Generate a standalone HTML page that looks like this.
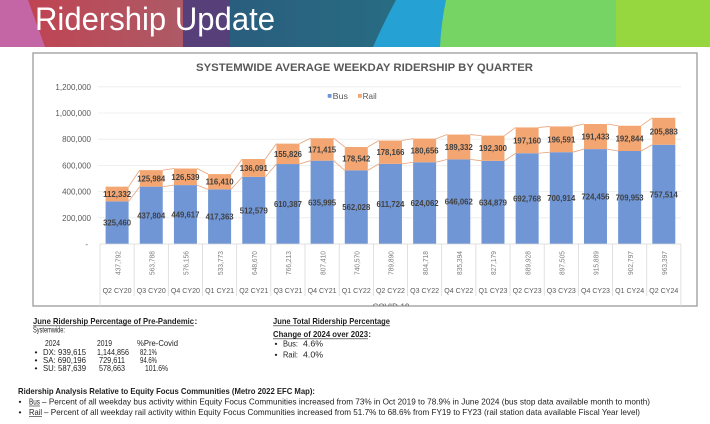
<!DOCTYPE html>
<html><head><meta charset="utf-8"><style>
html,body{margin:0;padding:0;background:#fff;}
svg{display:block;}
text{font-family:"Liberation Sans",sans-serif;}
</style></head><body>
<svg width="710" height="424" viewBox="0 0 710 424" xmlns="http://www.w3.org/2000/svg">
<defs>
<linearGradient id="gRed" x1="0" x2="1" y1="0" y2="0"><stop offset="0" stop-color="#c3404f"/><stop offset="1" stop-color="#ad5a66"/></linearGradient>
<linearGradient id="gTeal" x1="0" x2="1" y1="0" y2="0"><stop offset="0" stop-color="#2c4a78"/><stop offset="1" stop-color="#286c82"/></linearGradient>
<clipPath id="box"><rect x="33" y="53" width="664" height="253"/></clipPath>
</defs>
<!-- banner -->
<rect x="0" y="0" width="710" height="47" fill="#96d73f"/>
<rect x="0" y="0" width="616" height="47" fill="#76d465"/>
<path d="M0,0 L446,0 Q441,24 440,47 L0,47 Z" fill="#25a2d3"/>
<path d="M0,0 L396,0 Q384,22 373,47 L0,47 Z" fill="url(#gTeal)"/>
<rect x="0" y="0" width="230" height="47" fill="#573f7a"/>
<path d="M0,0 L183,0 L183,47 L0,47 Z" fill="url(#gRed)"/>
<path d="M0,0 L28,0 L45,47 L0,47 Z" fill="#c466a6"/>
<text x="35" y="30" font-size="32" fill="#ffffff" textLength="240" lengthAdjust="spacingAndGlyphs">Ridership Update</text>

<!-- chart box -->
<rect x="33" y="53" width="664" height="253" fill="#ffffff" stroke="#a3a3a3" stroke-width="1.4"/>
<text x="364.5" y="71" font-size="11" font-weight="bold" fill="#595959" text-anchor="middle" textLength="337" lengthAdjust="spacingAndGlyphs">SYSTEMWIDE AVERAGE WEEKDAY RIDERSHIP BY QUARTER</text>

<!-- gridlines -->
<g stroke="#ebebeb" stroke-width="0.8">
<line x1="98" y1="86.8" x2="681" y2="86.8"/>
<line x1="98" y1="113" x2="681" y2="113"/>
<line x1="98" y1="139.2" x2="681" y2="139.2"/>
<line x1="98" y1="165.4" x2="681" y2="165.4"/>
<line x1="98" y1="191.6" x2="681" y2="191.6"/>
<line x1="98" y1="217.8" x2="681" y2="217.8"/>
</g>
<g font-size="8" fill="#595959" text-anchor="end">
<text x="91" y="89.8">1,200,000</text>
<text x="91" y="116">1,000,000</text>
<text x="91" y="142.2">800,000</text>
<text x="91" y="168.4">600,000</text>
<text x="91" y="194.6">400,000</text>
<text x="91" y="220.8">200,000</text>
<text x="88" y="247">-</text>
</g>

<!-- legend -->
<rect x="327.7" y="94" width="3.8" height="3.8" fill="#7096d6"/>
<text x="332.7" y="99" font-size="8" fill="#595959" textLength="15.3" lengthAdjust="spacingAndGlyphs">Bus</text>
<rect x="358" y="94" width="3.8" height="3.8" fill="#f3a672"/>
<text x="362.7" y="99" font-size="8" fill="#595959" textLength="14" lengthAdjust="spacingAndGlyphs">Rail</text>

<!-- bars -->
<g fill="#7096d6">
<rect x="105.59" y="201.36" width="23" height="42.64"/>
<rect x="139.76" y="186.65" width="23" height="57.35"/>
<rect x="173.93" y="185.10" width="23" height="58.90"/>
<rect x="208.10" y="189.33" width="23" height="54.67"/>
<rect x="242.27" y="176.85" width="23" height="67.15"/>
<rect x="276.44" y="164.04" width="23" height="79.96"/>
<rect x="310.61" y="160.68" width="23" height="83.32"/>
<rect x="344.78" y="170.37" width="23" height="73.63"/>
<rect x="378.95" y="163.86" width="23" height="80.14"/>
<rect x="413.12" y="162.25" width="23" height="81.75"/>
<rect x="447.29" y="159.37" width="23" height="84.63"/>
<rect x="481.46" y="160.83" width="23" height="83.17"/>
<rect x="515.63" y="153.25" width="23" height="90.75"/>
<rect x="549.80" y="152.18" width="23" height="91.82"/>
<rect x="583.97" y="149.10" width="23" height="94.90"/>
<rect x="618.14" y="151.00" width="23" height="93.00"/>
<rect x="652.31" y="144.77" width="23" height="99.23"/>
</g>
<g fill="#f3a672">
<rect x="105.59" y="186.65" width="23" height="14.71"/>
<rect x="139.76" y="170.14" width="23" height="16.51"/>
<rect x="173.93" y="168.52" width="23" height="16.58"/>
<rect x="208.10" y="174.08" width="23" height="15.25"/>
<rect x="242.27" y="159.02" width="23" height="17.83"/>
<rect x="276.44" y="143.63" width="23" height="20.41"/>
<rect x="310.61" y="138.23" width="23" height="22.45"/>
<rect x="344.78" y="146.99" width="23" height="23.38"/>
<rect x="378.95" y="140.52" width="23" height="23.34"/>
<rect x="413.12" y="138.58" width="23" height="23.67"/>
<rect x="447.29" y="134.56" width="23" height="24.81"/>
<rect x="481.46" y="135.64" width="23" height="25.19"/>
<rect x="515.63" y="127.42" width="23" height="25.83"/>
<rect x="549.80" y="126.43" width="23" height="25.75"/>
<rect x="583.97" y="124.02" width="23" height="25.08"/>
<rect x="618.14" y="125.73" width="23" height="25.27"/>
<rect x="652.31" y="117.80" width="23" height="26.97"/>
</g>
<!-- series lines -->
<path fill="none" stroke="#e8a27a" stroke-width="0.8" d="
M128.59,201.36 L139.76,186.65 M128.59,186.65 L139.76,170.14
M162.76,186.65 L173.93,185.10 M162.76,170.14 L173.93,168.52
M196.93,185.10 L208.10,189.33 M196.93,168.52 L208.10,174.08
M231.10,189.33 L242.27,176.85 M231.10,174.08 L242.27,159.02
M265.27,176.85 L276.44,164.04 M265.27,159.02 L276.44,143.63
M299.44,164.04 L310.61,160.68 M299.44,143.63 L310.61,138.23
M333.61,160.68 L344.78,170.37 M333.61,138.23 L344.78,146.99
M367.78,170.37 L378.95,163.86 M367.78,146.99 L378.95,140.52
M401.95,163.86 L413.12,162.25 M401.95,140.52 L413.12,138.58
M436.12,162.25 L447.29,159.37 M436.12,138.58 L447.29,134.56
M470.29,159.37 L481.46,160.83 M470.29,134.56 L481.46,135.64
M504.46,160.83 L515.63,153.25 M504.46,135.64 L515.63,127.42
M538.63,153.25 L549.80,152.18 M538.63,127.42 L549.80,126.43
M572.80,152.18 L583.97,149.10 M572.80,126.43 L583.97,124.02
M606.97,149.10 L618.14,151.00 M606.97,124.02 L618.14,125.73
M641.14,151.00 L652.31,144.77 M641.14,125.73 L652.31,117.80"/>

<!-- data labels -->
<g font-size="8.5" font-weight="bold" fill="#404040" text-anchor="middle">
<text x="117.09" y="225.7" textLength="28" lengthAdjust="spacingAndGlyphs">325,460</text>
<text x="151.26" y="218.3" textLength="28" lengthAdjust="spacingAndGlyphs">437,804</text>
<text x="185.43" y="217.6" textLength="28" lengthAdjust="spacingAndGlyphs">449,617</text>
<text x="219.60" y="219.7" textLength="28" lengthAdjust="spacingAndGlyphs">417,363</text>
<text x="253.77" y="213.4" textLength="28" lengthAdjust="spacingAndGlyphs">512,579</text>
<text x="287.94" y="207.0" textLength="28" lengthAdjust="spacingAndGlyphs">610,387</text>
<text x="322.11" y="205.3" textLength="28" lengthAdjust="spacingAndGlyphs">635,995</text>
<text x="356.28" y="210.2" textLength="28" lengthAdjust="spacingAndGlyphs">562,028</text>
<text x="390.45" y="206.9" textLength="28" lengthAdjust="spacingAndGlyphs">611,724</text>
<text x="424.62" y="206.1" textLength="28" lengthAdjust="spacingAndGlyphs">624,062</text>
<text x="458.79" y="204.7" textLength="28" lengthAdjust="spacingAndGlyphs">646,062</text>
<text x="492.96" y="205.4" textLength="28" lengthAdjust="spacingAndGlyphs">634,879</text>
<text x="527.13" y="201.6" textLength="28" lengthAdjust="spacingAndGlyphs">692,768</text>
<text x="561.30" y="201.1" textLength="28" lengthAdjust="spacingAndGlyphs">700,914</text>
<text x="595.47" y="199.6" textLength="28" lengthAdjust="spacingAndGlyphs">724,456</text>
<text x="629.64" y="200.5" textLength="28" lengthAdjust="spacingAndGlyphs">709,953</text>
<text x="663.81" y="197.4" textLength="28" lengthAdjust="spacingAndGlyphs">757,514</text>

<text x="117.09" y="197.0" textLength="28" lengthAdjust="spacingAndGlyphs">112,332</text>
<text x="151.26" y="181.4" textLength="28" lengthAdjust="spacingAndGlyphs">125,984</text>
<text x="185.43" y="179.8" textLength="28" lengthAdjust="spacingAndGlyphs">126,539</text>
<text x="219.60" y="184.7" textLength="28" lengthAdjust="spacingAndGlyphs">116,410</text>
<text x="253.77" y="170.9" textLength="28" lengthAdjust="spacingAndGlyphs">136,091</text>
<text x="287.94" y="156.8" textLength="28" lengthAdjust="spacingAndGlyphs">155,826</text>
<text x="322.11" y="152.5" textLength="28" lengthAdjust="spacingAndGlyphs">171,415</text>
<text x="356.28" y="161.7" textLength="28" lengthAdjust="spacingAndGlyphs">178,542</text>
<text x="390.45" y="155.2" textLength="28" lengthAdjust="spacingAndGlyphs">178,166</text>
<text x="424.62" y="153.4" textLength="28" lengthAdjust="spacingAndGlyphs">180,656</text>
<text x="458.79" y="150.0" textLength="28" lengthAdjust="spacingAndGlyphs">189,332</text>
<text x="492.96" y="151.2" textLength="28" lengthAdjust="spacingAndGlyphs">192,300</text>
<text x="527.13" y="143.3" textLength="28" lengthAdjust="spacingAndGlyphs">197,160</text>
<text x="561.30" y="142.3" textLength="28" lengthAdjust="spacingAndGlyphs">196,591</text>
<text x="595.47" y="139.6" textLength="28" lengthAdjust="spacingAndGlyphs">191,433</text>
<text x="629.64" y="141.4" textLength="28" lengthAdjust="spacingAndGlyphs">192,844</text>
<text x="663.81" y="134.3" textLength="28" lengthAdjust="spacingAndGlyphs">205,883</text>
</g>

<!-- category axis -->
<g clip-path="url(#box)">
<g stroke="#d9d9d9" stroke-width="0.8">
<line x1="100" y1="244" x2="681" y2="244"/>
<line x1="100" y1="244" x2="100" y2="310"/>
<line x1="134.17" y1="244" x2="134.17" y2="296"/>
<line x1="168.34" y1="244" x2="168.34" y2="296"/>
<line x1="202.51" y1="244" x2="202.51" y2="296"/>
<line x1="236.68" y1="244" x2="236.68" y2="296"/>
<line x1="270.85" y1="244" x2="270.85" y2="296"/>
<line x1="305.02" y1="244" x2="305.02" y2="296"/>
<line x1="339.19" y1="244" x2="339.19" y2="296"/>
<line x1="373.36" y1="244" x2="373.36" y2="296"/>
<line x1="407.53" y1="244" x2="407.53" y2="296"/>
<line x1="441.70" y1="244" x2="441.70" y2="296"/>
<line x1="475.87" y1="244" x2="475.87" y2="296"/>
<line x1="510.04" y1="244" x2="510.04" y2="296"/>
<line x1="544.21" y1="244" x2="544.21" y2="296"/>
<line x1="578.38" y1="244" x2="578.38" y2="296"/>
<line x1="612.55" y1="244" x2="612.55" y2="296"/>
<line x1="646.72" y1="244" x2="646.72" y2="296"/>
<line x1="680.89" y1="244" x2="680.89" y2="310"/>
</g>
<text x="391" y="309.5" font-size="8" fill="#595959" text-anchor="middle">COVID-19</text>
</g>
<g font-size="7.5" fill="#7f7f7f" text-anchor="middle">
<text transform="translate(117.6,263) rotate(-90)" y="2.7" textLength="24" lengthAdjust="spacingAndGlyphs">437,792</text>
<text transform="translate(151.8,263) rotate(-90)" y="2.7" textLength="24" lengthAdjust="spacingAndGlyphs">563,788</text>
<text transform="translate(185.9,263) rotate(-90)" y="2.7" textLength="24" lengthAdjust="spacingAndGlyphs">576,156</text>
<text transform="translate(220.1,263) rotate(-90)" y="2.7" textLength="24" lengthAdjust="spacingAndGlyphs">533,773</text>
<text transform="translate(254.3,263) rotate(-90)" y="2.7" textLength="24" lengthAdjust="spacingAndGlyphs">648,670</text>
<text transform="translate(288.4,263) rotate(-90)" y="2.7" textLength="24" lengthAdjust="spacingAndGlyphs">766,213</text>
<text transform="translate(322.6,263) rotate(-90)" y="2.7" textLength="24" lengthAdjust="spacingAndGlyphs">807,410</text>
<text transform="translate(356.8,263) rotate(-90)" y="2.7" textLength="24" lengthAdjust="spacingAndGlyphs">740,570</text>
<text transform="translate(390.9,263) rotate(-90)" y="2.7" textLength="24" lengthAdjust="spacingAndGlyphs">789,890</text>
<text transform="translate(425.1,263) rotate(-90)" y="2.7" textLength="24" lengthAdjust="spacingAndGlyphs">804,718</text>
<text transform="translate(459.3,263) rotate(-90)" y="2.7" textLength="24" lengthAdjust="spacingAndGlyphs">835,394</text>
<text transform="translate(493.5,263) rotate(-90)" y="2.7" textLength="24" lengthAdjust="spacingAndGlyphs">827,179</text>
<text transform="translate(527.6,263) rotate(-90)" y="2.7" textLength="24" lengthAdjust="spacingAndGlyphs">889,928</text>
<text transform="translate(561.8,263) rotate(-90)" y="2.7" textLength="24" lengthAdjust="spacingAndGlyphs">897,505</text>
<text transform="translate(596.0,263) rotate(-90)" y="2.7" textLength="24" lengthAdjust="spacingAndGlyphs">915,889</text>
<text transform="translate(630.1,263) rotate(-90)" y="2.7" textLength="24" lengthAdjust="spacingAndGlyphs">902,797</text>
<text transform="translate(664.3,263) rotate(-90)" y="2.7" textLength="24" lengthAdjust="spacingAndGlyphs">963,397</text>
</g>
<g font-size="7.5" fill="#595959" text-anchor="middle">
<text x="117.09" y="292.8" textLength="29" lengthAdjust="spacingAndGlyphs">Q2 CY20</text>
<text x="151.26" y="292.8" textLength="29" lengthAdjust="spacingAndGlyphs">Q3 CY20</text>
<text x="185.43" y="292.8" textLength="29" lengthAdjust="spacingAndGlyphs">Q4 CY20</text>
<text x="219.60" y="292.8" textLength="29" lengthAdjust="spacingAndGlyphs">Q1 CY21</text>
<text x="253.77" y="292.8" textLength="29" lengthAdjust="spacingAndGlyphs">Q2 CY21</text>
<text x="287.94" y="292.8" textLength="29" lengthAdjust="spacingAndGlyphs">Q3 CY21</text>
<text x="322.11" y="292.8" textLength="29" lengthAdjust="spacingAndGlyphs">Q4 CY21</text>
<text x="356.28" y="292.8" textLength="29" lengthAdjust="spacingAndGlyphs">Q1 CY22</text>
<text x="390.45" y="292.8" textLength="29" lengthAdjust="spacingAndGlyphs">Q2 CY22</text>
<text x="424.62" y="292.8" textLength="29" lengthAdjust="spacingAndGlyphs">Q3 CY22</text>
<text x="458.79" y="292.8" textLength="29" lengthAdjust="spacingAndGlyphs">Q4 CY22</text>
<text x="492.96" y="292.8" textLength="29" lengthAdjust="spacingAndGlyphs">Q1 CY23</text>
<text x="527.13" y="292.8" textLength="29" lengthAdjust="spacingAndGlyphs">Q2 CY23</text>
<text x="561.30" y="292.8" textLength="29" lengthAdjust="spacingAndGlyphs">Q3 CY23</text>
<text x="595.47" y="292.8" textLength="29" lengthAdjust="spacingAndGlyphs">Q4 CY23</text>
<text x="629.64" y="292.8" textLength="29" lengthAdjust="spacingAndGlyphs">Q1 CY24</text>
<text x="663.81" y="292.8" textLength="29" lengthAdjust="spacingAndGlyphs">Q2 CY24</text>
</g>

<!-- left text block -->
<g font-size="8.5" fill="#1e1e1e">
<text x="33" y="324" font-weight="bold" textLength="161" lengthAdjust="spacingAndGlyphs">June Ridership Percentage of Pre-Pandemic</text>
<text x="194.5" y="324" font-weight="bold">:</text>
<line x1="33" y1="325.8" x2="194" y2="325.8" stroke="#1e1e1e" stroke-width="0.7"/>
<text x="33" y="332.5" textLength="32" lengthAdjust="spacingAndGlyphs">Systemwide:</text>
<text x="45" y="346" textLength="15" lengthAdjust="spacingAndGlyphs">2024</text>
<text x="97" y="346" textLength="15" lengthAdjust="spacingAndGlyphs">2019</text>
<text x="137" y="346" textLength="41" lengthAdjust="spacingAndGlyphs">%Pre-Covid</text>
<text x="34.5" y="355">•</text>
<text x="43" y="355" textLength="43" lengthAdjust="spacingAndGlyphs">DX: 939,615</text>
<text x="97" y="355" textLength="32" lengthAdjust="spacingAndGlyphs">1,144,856</text>
<text x="140" y="355" textLength="17" lengthAdjust="spacingAndGlyphs">82.1%</text>
<text x="34.5" y="363">•</text>
<text x="43" y="363" textLength="43" lengthAdjust="spacingAndGlyphs">SA: 690,196</text>
<text x="99" y="363" textLength="26" lengthAdjust="spacingAndGlyphs">729,611</text>
<text x="140" y="363" textLength="17" lengthAdjust="spacingAndGlyphs">94.6%</text>
<text x="34.5" y="371">•</text>
<text x="43" y="371" textLength="43" lengthAdjust="spacingAndGlyphs">SU: 587,639</text>
<text x="99" y="371" textLength="26" lengthAdjust="spacingAndGlyphs">578,663</text>
<text x="145" y="371" textLength="23" lengthAdjust="spacingAndGlyphs">101.6%</text>

<!-- right text block -->
<text x="273" y="324" font-weight="bold" textLength="117" lengthAdjust="spacingAndGlyphs">June Total Ridership Percentage</text>
<line x1="273" y1="325.8" x2="390" y2="325.8" stroke="#1e1e1e" stroke-width="0.7"/>
<text x="273" y="337" font-weight="bold" textLength="95" lengthAdjust="spacingAndGlyphs">Change of 2024 over 2023</text>
<text x="368.3" y="337" font-weight="bold">:</text>
<line x1="273" y1="338.8" x2="368" y2="338.8" stroke="#1e1e1e" stroke-width="0.7"/>
<text x="274.5" y="346.5">•</text>
<text x="283" y="346.5" textLength="15" lengthAdjust="spacingAndGlyphs">Bus:</text>
<text x="303" y="346.5" textLength="20" lengthAdjust="spacingAndGlyphs">4.6%</text>
<text x="274.5" y="357.5">•</text>
<text x="283" y="357.5" textLength="15" lengthAdjust="spacingAndGlyphs">Rail:</text>
<text x="303" y="357.5" textLength="20" lengthAdjust="spacingAndGlyphs">4.0%</text>

<!-- bottom block -->
<text x="18" y="394" font-weight="bold" textLength="297" lengthAdjust="spacingAndGlyphs">Ridership Analysis Relative to Equity Focus Communities (Metro 2022 EFC Map):</text>
<text x="18.5" y="404.5">•</text>
<text x="29" y="404.5" textLength="11" lengthAdjust="spacingAndGlyphs">Bus</text>
<line x1="29" y1="406" x2="40" y2="406" stroke="#1e1e1e" stroke-width="0.6"/>
<text x="42" y="404.5" textLength="608" lengthAdjust="spacingAndGlyphs">– Percent of all weekday bus activity within Equity Focus Communities increased from 73% in Oct 2019 to 78.9% in June 2024 (bus stop data available month to month)</text>
<text x="18.5" y="415">•</text>
<text x="29" y="415" textLength="13" lengthAdjust="spacingAndGlyphs">Rail</text>
<line x1="29" y1="416.5" x2="42" y2="416.5" stroke="#1e1e1e" stroke-width="0.6"/>
<text x="44" y="415" textLength="596" lengthAdjust="spacingAndGlyphs">– Percent of all weekday rail activity within Equity Focus Communities increased from 51.7% to 68.6% from FY19 to FY23 (rail station data available Fiscal Year level)</text>
</g>
</svg>
</body></html>
